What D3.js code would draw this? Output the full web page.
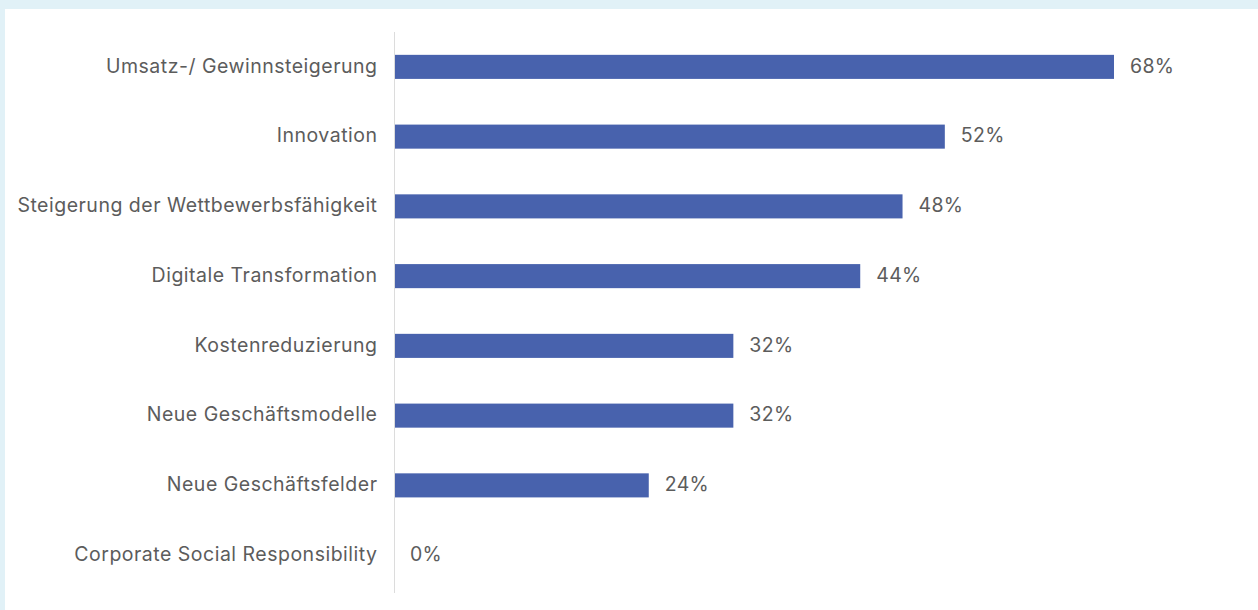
<!DOCTYPE html>
<html><head><meta charset="utf-8">
<script src="https://cdn.jsdelivr.net/npm/d3@7"></script>
<style>
html,body{margin:0;padding:0;background:#e1f1f7;}
svg{display:block;}
</style></head>
<body><svg id="c" width="1258" height="610"></svg>
<script>
const categories = ["Umsatz-/ Gewinnsteigerung","Innovation","Steigerung der Wettbewerbsfähigkeit","Digitale Transformation","Kostenreduzierung","Neue Geschäftsmodelle","Neue Geschäftsfelder","Corporate Social Responsibility"];
const values = [68,52,48,44,32,32,24,0];

const svg = d3.select("#c");
svg.append("rect").attr("x",5).attr("y",9).attr("width",1253).attr("height",601).attr("fill","#ffffff");

const x = d3.scaleLinear().domain([0,68]).range([395,1114]);
const y = d3.scaleBand().domain(categories).range([32,590]).paddingInner(0.655).paddingOuter(0.3275);

svg.append("line").attr("x1",394.5).attr("x2",394.5).attr("y1",32).attr("y2",593)
  .attr("stroke","#dcdcdc").attr("stroke-width",1);

const data = categories.map((c,i)=>({c, v: values[i]}));

svg.selectAll("rect.bar").data(data).enter().append("rect").attr("class","bar")
  .attr("x",x(0)).attr("y",d=>y(d.c)).attr("width",d=>x(d.v)-x(0)).attr("height",y.bandwidth())
  .attr("fill","#4862ad");

const font = "Inter, sans-serif";
svg.selectAll("text.cat").data(data).enter().append("text").attr("class","cat")
  .attr("x",377.5).attr("y",d=>y(d.c)+y.bandwidth()/2).attr("dy","0.29em")
  .attr("text-anchor","end").attr("font-family",font).attr("font-size",19.5).attr("fill","#5c5c5c")
  .attr("letter-spacing",0.5)
  .text(d=>d.c);

svg.selectAll("text.val").data(data).enter().append("text").attr("class","val")
  .attr("x",d=>x(d.v)+(d.v===0?15:16)).attr("y",d=>y(d.c)+y.bandwidth()/2).attr("dy","0.29em")
  .attr("font-family",font).attr("font-size",19.5).attr("fill","#5c5c5c")
  .attr("letter-spacing",0.3)
  .text(d=>d.v+"%");
</script></body></html>
